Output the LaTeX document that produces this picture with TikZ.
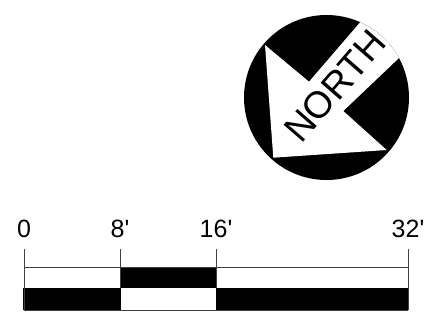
\documentclass[tikz,border=0pt]{standalone}
\usepackage{fontspec}
\setmainfont{Liberation Sans}
\begin{document}
\begin{tikzpicture}[x=1pt,y=-1pt,
  line/.style={draw=black!75,line width=0.75pt},
  blk/.style={fill=black},
  lab/.style={font=\fontsize{25}{25}\selectfont,anchor=base,inner sep=0pt}]
\useasboundingbox[fill=white] (0,0) rectangle (444,327);
% compass
\coordinate (C) at (326.5,97.5);
\fill[black] (C) circle (82.5);
\begin{scope}
\clip (C) circle (82.5);
\fill[white] (265,45) -- (309,81.7) -- (375,5) -- (420,38) -- (343.3,111) -- (386.7,150) -- (273.3,157.7) -- cycle;
\end{scope}
\node[font=\fontsize{37.5}{37.5}\selectfont,rotate=49,inner sep=0pt] (north) at (335,86) {NORTH};
% scale bar
\fill[blk] (120,267) rectangle (216,288);
\fill[blk] (23,288) rectangle (120.5,310);
\fill[blk] (216,288) rectangle (408.5,310);
\draw[line] (24,249) -- (24,310);
\draw[line] (120,249) -- (120,288);
\draw[line] (216,249) -- (216,288);
\draw[line] (408,249) -- (408,310);
\draw[line] (24,267.3) -- (408,267.3);
\draw[line] (24,310) -- (408,310);
\node[lab] (a) at (24,237) {0};
\node[lab] (b) at (120,237) {8\textquotesingle};
\node[lab] (c) at (216,237) {16\textquotesingle};
\node[lab] (d) at (408,237) {32\textquotesingle};
\end{tikzpicture}
\end{document}
